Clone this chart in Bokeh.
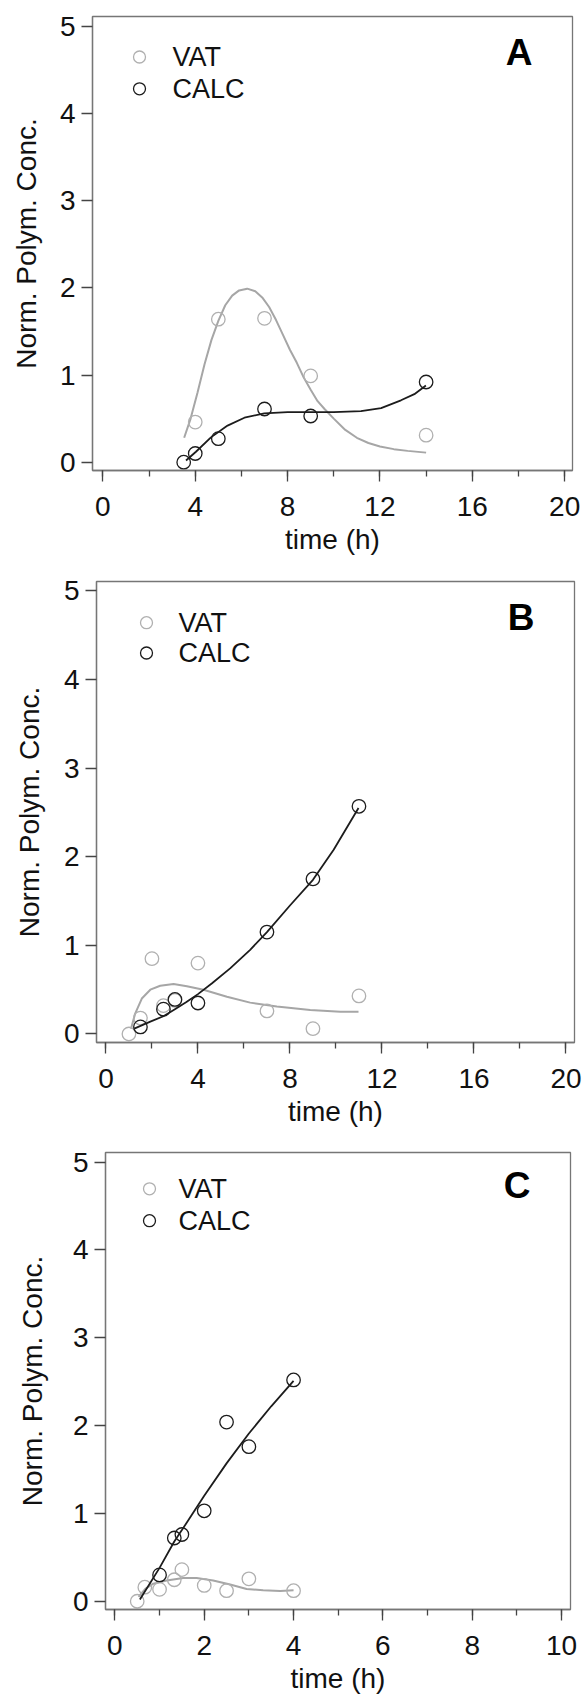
from bokeh.plotting import figure
from bokeh.models import Range1d, SingleIntervalTicker, Label
from bokeh.core.properties import value
from bokeh.embed import file_html
from bokeh.resources import INLINE

# ---------------- Panel A ----------------
a_vat_t = [4, 5, 7, 9, 14]
a_vat_y = [0.46, 1.64, 1.65, 0.99, 0.31]
a_calc_t = [3.5, 4, 5, 7, 9, 14]
a_calc_y = [0.0, 0.10, 0.27, 0.61, 0.53, 0.92]
a_vat_fit_t = [3.52, 3.8, 4.1, 4.4, 4.7, 5.0, 5.3, 5.6, 5.9, 6.25, 6.6, 6.9, 7.2, 7.5,
               7.8, 8.1, 8.4, 8.7, 9.0, 9.3, 9.6, 10.0, 10.5, 11.0, 11.5, 12.0, 12.6, 13.2, 14.0]
a_vat_fit_y = [0.28, 0.50, 0.80, 1.12, 1.40, 1.62, 1.80, 1.91, 1.97, 1.99, 1.96, 1.89, 1.78, 1.63,
               1.46, 1.29, 1.14, 0.97, 0.83, 0.70, 0.61, 0.50, 0.37, 0.28, 0.22, 0.18, 0.15, 0.13, 0.11]
a_calc_fit_t = [3.6, 4.03, 4.68, 5.40, 6.13, 6.99, 8.0, 9.0, 10.0, 11.18, 12.05, 12.91, 13.49, 13.99]
a_calc_fit_y = [0.02, 0.12, 0.285, 0.42, 0.51, 0.56, 0.575, 0.575, 0.575, 0.585, 0.62, 0.71, 0.78, 0.88]

# ---------------- Panel B ----------------
b_vat_t = [1, 1.5, 2, 2.5, 3, 4, 7, 9, 11]
b_vat_y = [0.0, 0.18, 0.85, 0.32, 0.38, 0.80, 0.26, 0.06, 0.43]
b_calc_t = [1.5, 2.5, 3, 4, 7, 9, 11]
b_calc_y = [0.08, 0.28, 0.39, 0.35, 1.15, 1.75, 2.57]
b_vat_fit_t = [1.09, 1.27, 1.56, 1.93, 2.36, 2.94, 3.52, 4.24, 5.26, 6.27, 7.43, 8.88, 10.19, 10.98]
b_vat_fit_y = [0.06, 0.23, 0.40, 0.50, 0.545, 0.565, 0.54, 0.50, 0.42, 0.354, 0.31, 0.27, 0.25, 0.25]
b_calc_fit_t = [1.23, 1.93, 2.5, 3.0, 3.5, 4.0, 4.6, 5.4, 6.27, 7.0, 8.0, 9.0, 9.9, 10.98]
b_calc_fit_y = [0.06, 0.14, 0.20, 0.28, 0.36, 0.45, 0.57, 0.74, 0.95, 1.15, 1.45, 1.74, 2.08, 2.55]

# ---------------- Panel C ----------------
c_vat_t = [0.5, 0.67, 1.0, 1.33, 1.5, 2.0, 2.5, 3.0, 4.0]
c_vat_y = [0.0, 0.16, 0.135, 0.245, 0.36, 0.18, 0.12, 0.255, 0.12]
c_calc_t = [1.0, 1.33, 1.5, 2.0, 2.5, 3.0, 4.0]
c_calc_y = [0.30, 0.72, 0.76, 1.03, 2.04, 1.76, 2.52]
c_vat_fit_t = [0.53, 0.68, 0.86, 1.16, 1.53, 1.83, 2.2, 2.58, 2.95, 3.32, 3.70, 4.0]
c_vat_fit_y = [0.05, 0.14, 0.20, 0.237, 0.264, 0.264, 0.237, 0.19, 0.14, 0.124, 0.118, 0.124]
c_calc_fit_t = [0.56, 1.0, 1.33, 1.5, 2.0, 2.5, 3.0, 3.5, 4.0]
c_calc_fit_y = [0.02, 0.38, 0.68, 0.81, 1.20, 1.57, 1.91, 2.22, 2.51]

SERIES = ["VAT", "CALC"]
X_LABEL = "time (h)"
Y_LABEL = "Norm. Polym. Conc."

FONT = "Liberation Sans"
GRAY_M = "#b0b0b0"
GRAY_L = "#a6a6a6"
BLACK = "#1c1c1c"
FRAME = "#767676"
TICK = "#444444"
TXT = "#111111"


def make_panel(letter, vt, vy, ct, cy, vft, vfy, cft, cfy,
               xr, yr, fw, fh, bl, bt, bb, br, xint, ylab_standoff,
               leg_cx, leg_rows, leg_tx, let_dx, let_dy):
    p = figure(frame_width=fw, frame_height=fh,
               x_range=Range1d(*xr), y_range=Range1d(*yr),
               output_backend="svg", toolbar_location=None,
               min_border_left=bl, min_border_top=bt,
               min_border_bottom=bb, min_border_right=br)
    p.xgrid.visible = False
    p.ygrid.visible = False
    p.outline_line_color = FRAME
    p.outline_line_width = 1.3
    p.outline_line_alpha = 1.0
    p.background_fill_color = "white"
    p.border_fill_color = "white"

    p.xaxis.ticker = SingleIntervalTicker(interval=xint, num_minor_ticks=2)
    p.yaxis.ticker = SingleIntervalTicker(interval=1, num_minor_ticks=0)
    p.xaxis.axis_label = X_LABEL
    p.yaxis.axis_label = Y_LABEL
    for ax in (p.xaxis[0], p.yaxis[0]):
        ax.axis_line_color = FRAME
        ax.axis_line_width = 1.3
        ax.major_tick_line_color = TICK
        ax.major_tick_line_width = 1.3
        ax.major_tick_in = 0
        ax.major_tick_out = 11
        ax.minor_tick_line_color = TICK
        ax.minor_tick_line_width = 1.3
        ax.minor_tick_in = 0
        ax.minor_tick_out = 6
        ax.major_label_text_font = FONT
        ax.major_label_text_font_size = "28px"
        ax.major_label_text_color = TXT
        ax.axis_label_text_font = FONT
        ax.axis_label_text_font_size = "28px"
        ax.axis_label_text_font_style = "normal"
        ax.axis_label_text_color = TXT
    p.xaxis.major_label_standoff = 15
    p.xaxis.axis_label_standoff = 5
    p.yaxis.major_label_standoff = 6
    p.yaxis.axis_label_standoff = ylab_standoff

    p.line(vft, vfy, line_color=GRAY_L, line_width=2.0)
    p.scatter(vt, vy, marker="circle", size=13.5, fill_color=None,
              line_color=GRAY_M, line_width=1.3)
    p.line(cft, cfy, line_color=BLACK, line_width=1.8)
    p.scatter(ct, cy, marker="circle", size=13.5, fill_color=None,
              line_color=BLACK, line_width=1.3)

    ppx = fw / (xr[1] - xr[0])
    ppy = fh / (yr[1] - yr[0])

    # legend drawn by hand: offsets in px from the frame's top-left corner
    lx = [xr[0] + leg_cx / ppx] * 2
    ly = [yr[1] - r / ppy for r in leg_rows]
    p.scatter(lx, ly, marker="circle", size=12, fill_color=None,
              line_color=[GRAY_M, BLACK], line_width=1.3)
    p.text([xr[0] + leg_tx / ppx] * 2, ly, text=SERIES,
           text_font=value(FONT), text_font_size="27px", text_color=TXT,
           text_align="left", text_baseline="middle")

    p.add_layout(Label(x=xr[1] - let_dx / ppx, y=yr[1] - let_dy / ppy, text=letter,
                       text_font=FONT, text_font_style="bold", text_font_size="37px",
                       text_align="center", text_baseline="middle", text_color="#000000"))
    return p


pA = make_panel("A", a_vat_t, a_vat_y, a_calc_t, a_calc_y,
                a_vat_fit_t, a_vat_fit_y, a_calc_fit_t, a_calc_fit_y,
                (-0.45, 20.34), (-0.095, 5.111), 480, 454, 92, 16, 95, 12, 4, 15,
                47, (40.5, 72.3), 80, 53.5, 35.7)
pB = make_panel("B", b_vat_t, b_vat_y, b_calc_t, b_calc_y,
                b_vat_fit_t, b_vat_fit_y, b_calc_fit_t, b_calc_fit_y,
                (-0.41, 20.37), (-0.096, 5.107), 478, 461, 96, 16, 95, 10, 4, 16,
                50, (41.2, 71.5), 82, 53.5, 36)
pC = make_panel("C", c_vat_t, c_vat_y, c_calc_t, c_calc_y,
                c_vat_fit_t, c_vat_fit_y, c_calc_fit_t, c_calc_fit_y,
                (-0.21, 10.2), (-0.094, 5.11), 465, 457, 105, 15, 0, 14, 2, 22,
                44, (36.3, 68.2), 73, 53.5, 33)

open("out.html", "w").write(file_html([pA, pB, pC], INLINE))
